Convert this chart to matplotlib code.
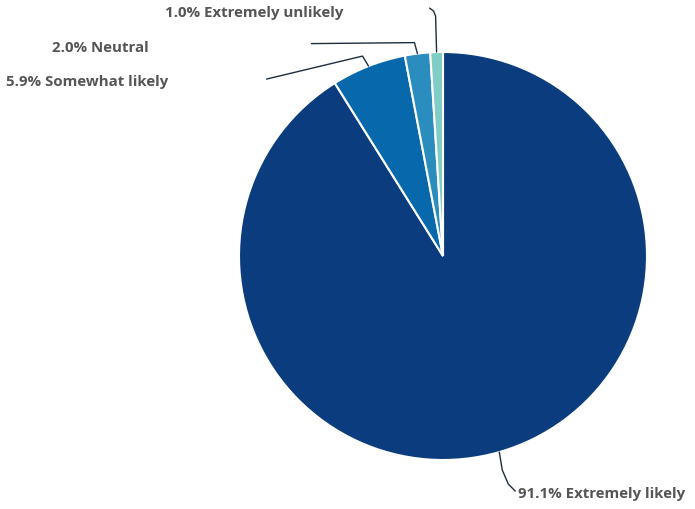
import numpy as np
import matplotlib.pyplot as plt

# --- data ---
categories = ["Extremely likely", "Somewhat likely", "Neutral", "Extremely unlikely"]
shares = [91.1, 5.9, 2.0, 1.0]
colors = ["#0b3d7e", "#0868ac", "#2b8cbe", "#7fcdc4"]

W, H = 695, 509
CX, CY, R = 443, H - 256, 204
TEXT_COLOR = "#555555"
LINE_COLOR = "#1f2d3d"

fig = plt.figure(figsize=(W / 100, H / 100), dpi=100)
ax = fig.add_axes([0, 0, 1, 1])

wedges, _ = ax.pie(shares, colors=colors, startangle=90, counterclock=False,
                   center=(CX, CY), radius=R, frame=True,
                   wedgeprops=dict(edgecolor="white", linewidth=1.5))
ax.set_xlim(0, W)
ax.set_ylim(0, H)
ax.set_aspect("equal")
ax.axis("off")


def edge_point(w):
    mid = np.deg2rad((w.theta1 + w.theta2) / 2)
    return CX + R * np.cos(mid), CY + R * np.sin(mid)


# leader line bends (pixel offsets from the edge point, y downwards) and label anchors
bends = [
    [(3, 18), (9, 32), (16, 39)],
    [(-6, -10), (-102, 13)],
    [(-3, -11), (-106, -10)],
    [(-1, -36), (-3, -41), (-7, -44)],
]
labels_at = [
    ((518, 494), "left"),
    ((168, 82), "right"),
    ((149, 48), "right"),
    ((343, 13), "right"),
]

for w, cat, val, pts, ((tx, ty), ha) in zip(wedges, categories, shares, bends, labels_at):
    x0, y0 = edge_point(w)
    xs = [x0] + [x0 + dx for dx, dy in pts]
    ys = [y0] + [y0 - dy for dx, dy in pts]
    ax.plot(xs, ys, color=LINE_COLOR, lw=1, solid_capstyle="round",
            solid_joinstyle="round")
    ax.text(tx, H - ty, f"{val:.1f}% {cat}", ha=ha, va="center",
            fontsize=10.8, fontweight="bold", color=TEXT_COLOR, family="Open Sans")

fig.savefig("out.png", dpi=100)
